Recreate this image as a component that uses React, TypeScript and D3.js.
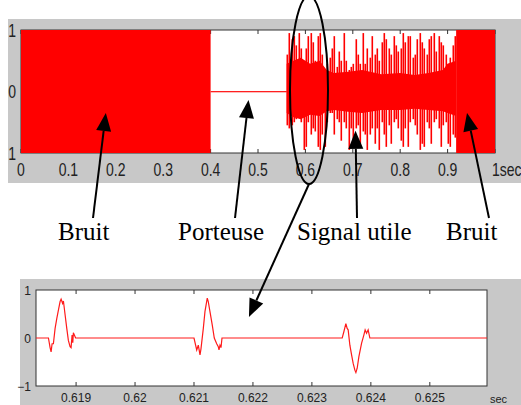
import { useEffect, useRef } from 'react'
import * as d3 from 'd3'

const W = 521
const H = 405

// full record (seconds, amplitude -1..1)
const noiseSpans = [[0, 0.4], [0.918, 1.0]]
const carrierSpan = [0.4, 0.5605]
const signalStart = 0.561
const signalStep = 0.005
const signalHi = [
  0.6, 0.95, 0.85, 0.9, 0.75, 0.95, 0.7, 0.4, 0.7, 0.9, 0.95, 0.8, 0.5, 0.9, 0.95, 0.6, 0.3, 0.45, 0.55,
  0.7, 0.9, 0.4, 0.65, 0.5, 0.95, 0.5, 0.35, 0.4, 0.45, 0.85, 0.6, 0.45, 0.95, 0.45, 0.7, 0.55, 0.9, 0.6,
  0.7, 0.5, 0.8, 0.95, 0.85, 0.7, 0.6, 0.9, 0.75, 0.65, 0.7, 0.95, 0.8, 0.9, 0.9, 0.55, 0.6, 0.85, 0.95,
  0.8, 0.7, 0.6, 0.85, 0.9, 0.95, 0.65, 0.9, 0.8, 0.75, 0.6, 0.45, 0.55, 0.75, 0.9,
]
const signalLo = [
  -0.55, -0.6, -0.55, -0.5, -0.45, -0.4, -0.5, -0.95, -0.9, -0.5, -0.7, -0.6, -0.65, -0.9, -0.95, -0.7, -0.9,
  -0.5, -0.35, -0.35, -0.7, -0.45, -0.5, -0.8, -0.5, -0.6, -0.95, -0.6, -0.85, -0.6, -0.55, -0.9, -0.65, -0.7,
  -0.95, -0.7, -0.6, -0.85,
  -0.6, -0.95, -0.5, -0.7, -0.9, -0.55, -0.85, -0.5, -0.45, -0.6, -0.8, -0.9, -0.6, -0.9, -0.5, -0.45, -0.55,
  -0.7, -0.95, -0.85, -0.9, -0.5, -0.6, -0.85, -0.5, -0.45, -0.6, -0.9, -0.55, -0.5, -0.85, -0.9, -0.7, -0.75,
]
const coreT = [0.5605, 0.575, 0.59, 0.61, 0.63, 0.645, 0.66, 0.69, 0.72, 0.76, 0.8, 0.83, 0.86, 0.89, 0.9, 0.918]
const coreHi = [0.45, 0.5, 0.55, 0.45, 0.5, 0.35, 0.3, 0.32, 0.35, 0.28, 0.3, 0.27, 0.3, 0.35, 0.45, 0.5]
const coreLo = [-0.35, -0.42, -0.45, -0.38, -0.4, -0.32, -0.3, -0.33, -0.35, -0.3, -0.3, -0.28, -0.3, -0.32, -0.35, -0.4]
const topTicks = [0, 0.1, 0.2, 0.3, 0.4, 0.5, 0.6, 0.7, 0.8, 0.9, 1]
const topYTicks = [1, 0, -1]

// zoom on the useful signal
const zoomT = [
  0.61832,
  0.618531, 0.618559, 0.618576, 0.618593, 0.618615, 0.618644, 0.618673, 0.6187, 0.618729, 0.618746,
  0.618771, 0.618785, 0.618814, 0.618842, 0.618869, 0.618898, 0.618915, 0.618932, 0.618944, 0.618954, 0.618992,
  0.621, 0.621046, 0.621073, 0.621102, 0.621119, 0.621158, 0.621186, 0.621225, 0.621242, 0.621271, 0.62131,
  0.621344, 0.621385, 0.621412, 0.621424, 0.621441, 0.621458, 0.621475,
  0.623514, 0.623542, 0.623576, 0.623598, 0.623615, 0.623644, 0.623673, 0.6237, 0.623729, 0.623746, 0.623768,
  0.623797, 0.623842, 0.623881, 0.623903, 0.623927, 0.623954, 0.623983,
  0.62597,
]
const zoomV = [
  0,
  0, -0.2, -0.29, -0.12, -0.12, 0.2, 0.41, 0.58, 0.76, 0.81,
  0.72, 0.77, 0.48, 0.2, -0.05, -0.18, -0.2, 0.06, -0.1, 0.11, 0,
  0, -0.25, -0.15, -0.35, -0.22, 0.2, 0.55, 0.83, 0.76, 0.55, 0.27,
  0, -0.12, -0.18, -0.25, -0.15, -0.2, 0,
  0, 0.13, 0.3, 0.2, 0.17, -0.15, -0.35, -0.53, -0.67, -0.72, -0.63,
  -0.39, -0.11, 0.06, 0.17, 0.1, 0.17, 0,
  0,
]
const zoomTicks = [0.619, 0.62, 0.621, 0.622, 0.623, 0.624, 0.625]
const zoomYTicks = [1, 0, -1]

// annotations: label, arrow tip in record coordinates
const labels = ['Bruit', 'Porteuse', 'Signal utile', 'Bruit']
const tipT = [0.179, 0.48, 0.7057, 0.941]
const tipV = [-0.35, -0.14, -0.64, -0.35]

const RED = '#ff0000'

export default function App() {
  const svgRef = useRef<SVGSVGElement>(null)

  useEffect(() => {
    if (!svgRef.current) return
    const svg = d3.select(svgRef.current)
    svg.selectAll('*').remove()

    // ---------- top panel ----------
    const x = d3.scaleLinear().domain([0, 1]).range([21, 495])
    const y = d3.scaleLinear().domain([-1, 1]).range([153, 30])

    svg.append('defs').append('clipPath').attr('id', 'topclip')
      .append('rect').attr('x', 8).attr('y', 19).attr('width', W - 8).attr('height', 164)

    const top = svg.append('g').attr('clip-path', 'url(#topclip)')
    top.append('rect').attr('x', 8).attr('y', 19).attr('width', W - 8).attr('height', 164).attr('fill', '#c8c8c8')
    top.append('rect')
      .attr('x', x(0)).attr('y', y(1))
      .attr('width', x(1) - x(0)).attr('height', y(-1) - y(1))
      .attr('fill', '#fff').attr('stroke', '#333').attr('stroke-width', 1)

    topTicks.forEach(t => {
      top.append('line').attr('x1', x(t)).attr('x2', x(t)).attr('y1', y(-1)).attr('y2', y(-1) - 4).attr('stroke', '#333')
      top.append('line').attr('x1', x(t)).attr('x2', x(t)).attr('y1', y(1)).attr('y2', y(1) + 4).attr('stroke', '#333')
      const lab = top.append('text')
        .attr('transform', `translate(${x(t)},${176}) scale(1,1.3)`)
        .attr('text-anchor', t === 1 ? 'start' : 'middle')
        .attr('dx', t === 1 ? -3 : 0)
        .attr('font-family', 'Liberation Sans, Arial, sans-serif')
        .attr('font-size', 14)
        .attr('fill', '#222')
        .text(d3.format('~g')(t))
      if (t === 1) lab.append('tspan').text('sec')
    })
    topYTicks.forEach(v => {
      top.append('text')
        .attr('transform', `translate(16,${y(v) + 6.5}) scale(1,1.3)`)
        .attr('text-anchor', 'end')
        .attr('font-family', 'Liberation Sans, Arial, sans-serif')
        .attr('font-size', 14)
        .attr('fill', '#222')
        .text(d3.format('~g')(v))
    })

    // noise blocks
    noiseSpans.forEach(([a, b]) => {
      top.append('rect')
        .attr('x', x(a)).attr('y', y(1))
        .attr('width', x(b) - x(a)).attr('height', y(-1) - y(1))
        .attr('fill', RED)
    })
    // carrier
    top.append('rect')
      .attr('x', x(carrierSpan[0])).attr('y', Math.round(y(0)) - 1)
      .attr('width', x(carrierSpan[1]) - x(carrierSpan[0])).attr('height', 1.3)
      .attr('fill', '#ff2020')
    // useful signal: dense core + spikes
    const core = d3.area<number>()
      .x((_, i) => x(coreT[i]))
      .y0((_, i) => y(coreLo[i]))
      .y1((_, i) => y(coreHi[i]))
    top.append('path').datum(coreT).attr('d', core).attr('fill', RED)
    signalHi.forEach((hi, i) => {
      const t = signalStart + i * signalStep
      top.append('rect')
        .attr('x', Math.round(x(t)) - 0.5).attr('width', 1.6)
        .attr('y', y(hi)).attr('height', y(signalLo[i]) - y(hi))
        .attr('fill', RED)
    })

    // ---------- bottom panel ----------
    const zx = d3.scaleLinear().domain([0.61832, 0.62597]).range([36, 487])
    const zy = d3.scaleLinear().domain([-1, 1]).range([386, 290])

    const bot = svg.append('g')
    bot.append('rect').attr('x', 20).attr('y', 279).attr('width', W - 20).attr('height', H - 279).attr('fill', '#c8c8c8')
    bot.append('rect')
      .attr('x', zx.range()[0]).attr('y', zy(1))
      .attr('width', zx.range()[1] - zx.range()[0]).attr('height', zy(-1) - zy(1))
      .attr('fill', '#fff').attr('stroke', '#333').attr('stroke-width', 1)
    zoomTicks.forEach(t => {
      bot.append('line').attr('x1', zx(t)).attr('x2', zx(t)).attr('y1', zy(-1)).attr('y2', zy(-1) - 4).attr('stroke', '#333')
      bot.append('line').attr('x1', zx(t)).attr('x2', zx(t)).attr('y1', zy(1)).attr('y2', zy(1) + 4).attr('stroke', '#333')
      bot.append('text')
        .attr('x', zx(t)).attr('y', 402)
        .attr('text-anchor', 'middle')
        .attr('font-family', 'Liberation Sans, Arial, sans-serif')
        .attr('font-size', 12)
        .attr('fill', '#222')
        .text(d3.format('~g')(t))
    })
    bot.append('text')
      .attr('x', 490).attr('y', 403)
      .attr('font-family', 'Liberation Sans, Arial, sans-serif')
      .attr('font-size', 11)
      .attr('fill', '#222')
      .text('sec')
    zoomYTicks.forEach(v => {
      bot.append('text')
        .attr('x', 31).attr('y', zy(v) + 4.5)
        .attr('text-anchor', 'end')
        .attr('font-family', 'Liberation Sans, Arial, sans-serif')
        .attr('font-size', 12)
        .attr('fill', '#222')
        .text(d3.format('~g')(v))
    })
    const line = d3.line<number>().x((_, i) => zx(zoomT[i])).y((_, i) => zy(zoomV[i]))
    bot.append('path').datum(zoomT).attr('d', line)
      .attr('fill', 'none').attr('stroke', '#ff1a1a').attr('stroke-width', 1.2)

    // ---------- annotations ----------
    const ann = svg.append('g')
    const arrow = (x0: number, y0: number, x1: number, y1: number) => {
      const dx = x1 - x0
      const dy = y1 - y0
      const len = Math.hypot(dx, dy)
      const ux = dx / len
      const uy = dy / len
      const hl = 18
      const hw = 7.5
      const bx = x1 - ux * hl
      const by = y1 - uy * hl
      ann.append('line').attr('x1', x0).attr('y1', y0).attr('x2', bx).attr('y2', by)
        .attr('stroke', '#000').attr('stroke-width', 2)
      ann.append('path')
        .attr('d', `M${x1},${y1}L${bx - uy * hw},${by + ux * hw}L${bx + uy * hw},${by - ux * hw}Z`)
        .attr('fill', '#000')
    }

    const labelX = [58, 178, 297, 446]
    const tailX = [93, 235, 357, 489]
    labels.forEach((lab, i) => {
      ann.append('text')
        .attr('x', labelX[i]).attr('y', 240)
        .attr('font-family', 'Liberation Serif, Times New Roman, serif')
        .attr('font-size', 25)
        .attr('fill', '#000')
        .text(lab)
      arrow(tailX[i], 218, x(tipT[i]), y(tipV[i]))
    })

    // ellipse around the zoomed part + arrow to the zoom
    ann.append('ellipse')
      .attr('cx', 309).attr('cy', 90).attr('rx', 19).attr('ry', 94)
      .attr('fill', 'none').attr('stroke', '#000').attr('stroke-width', 2)
    arrow(309, 184, zx(0.621932), zy(0.44))
  }, [])

  return (
    <svg
      ref={svgRef}
      width={W}
      height={H}
      style={{ position: 'absolute', left: 0, top: 0, background: '#fff' }}
    />
  )
}
